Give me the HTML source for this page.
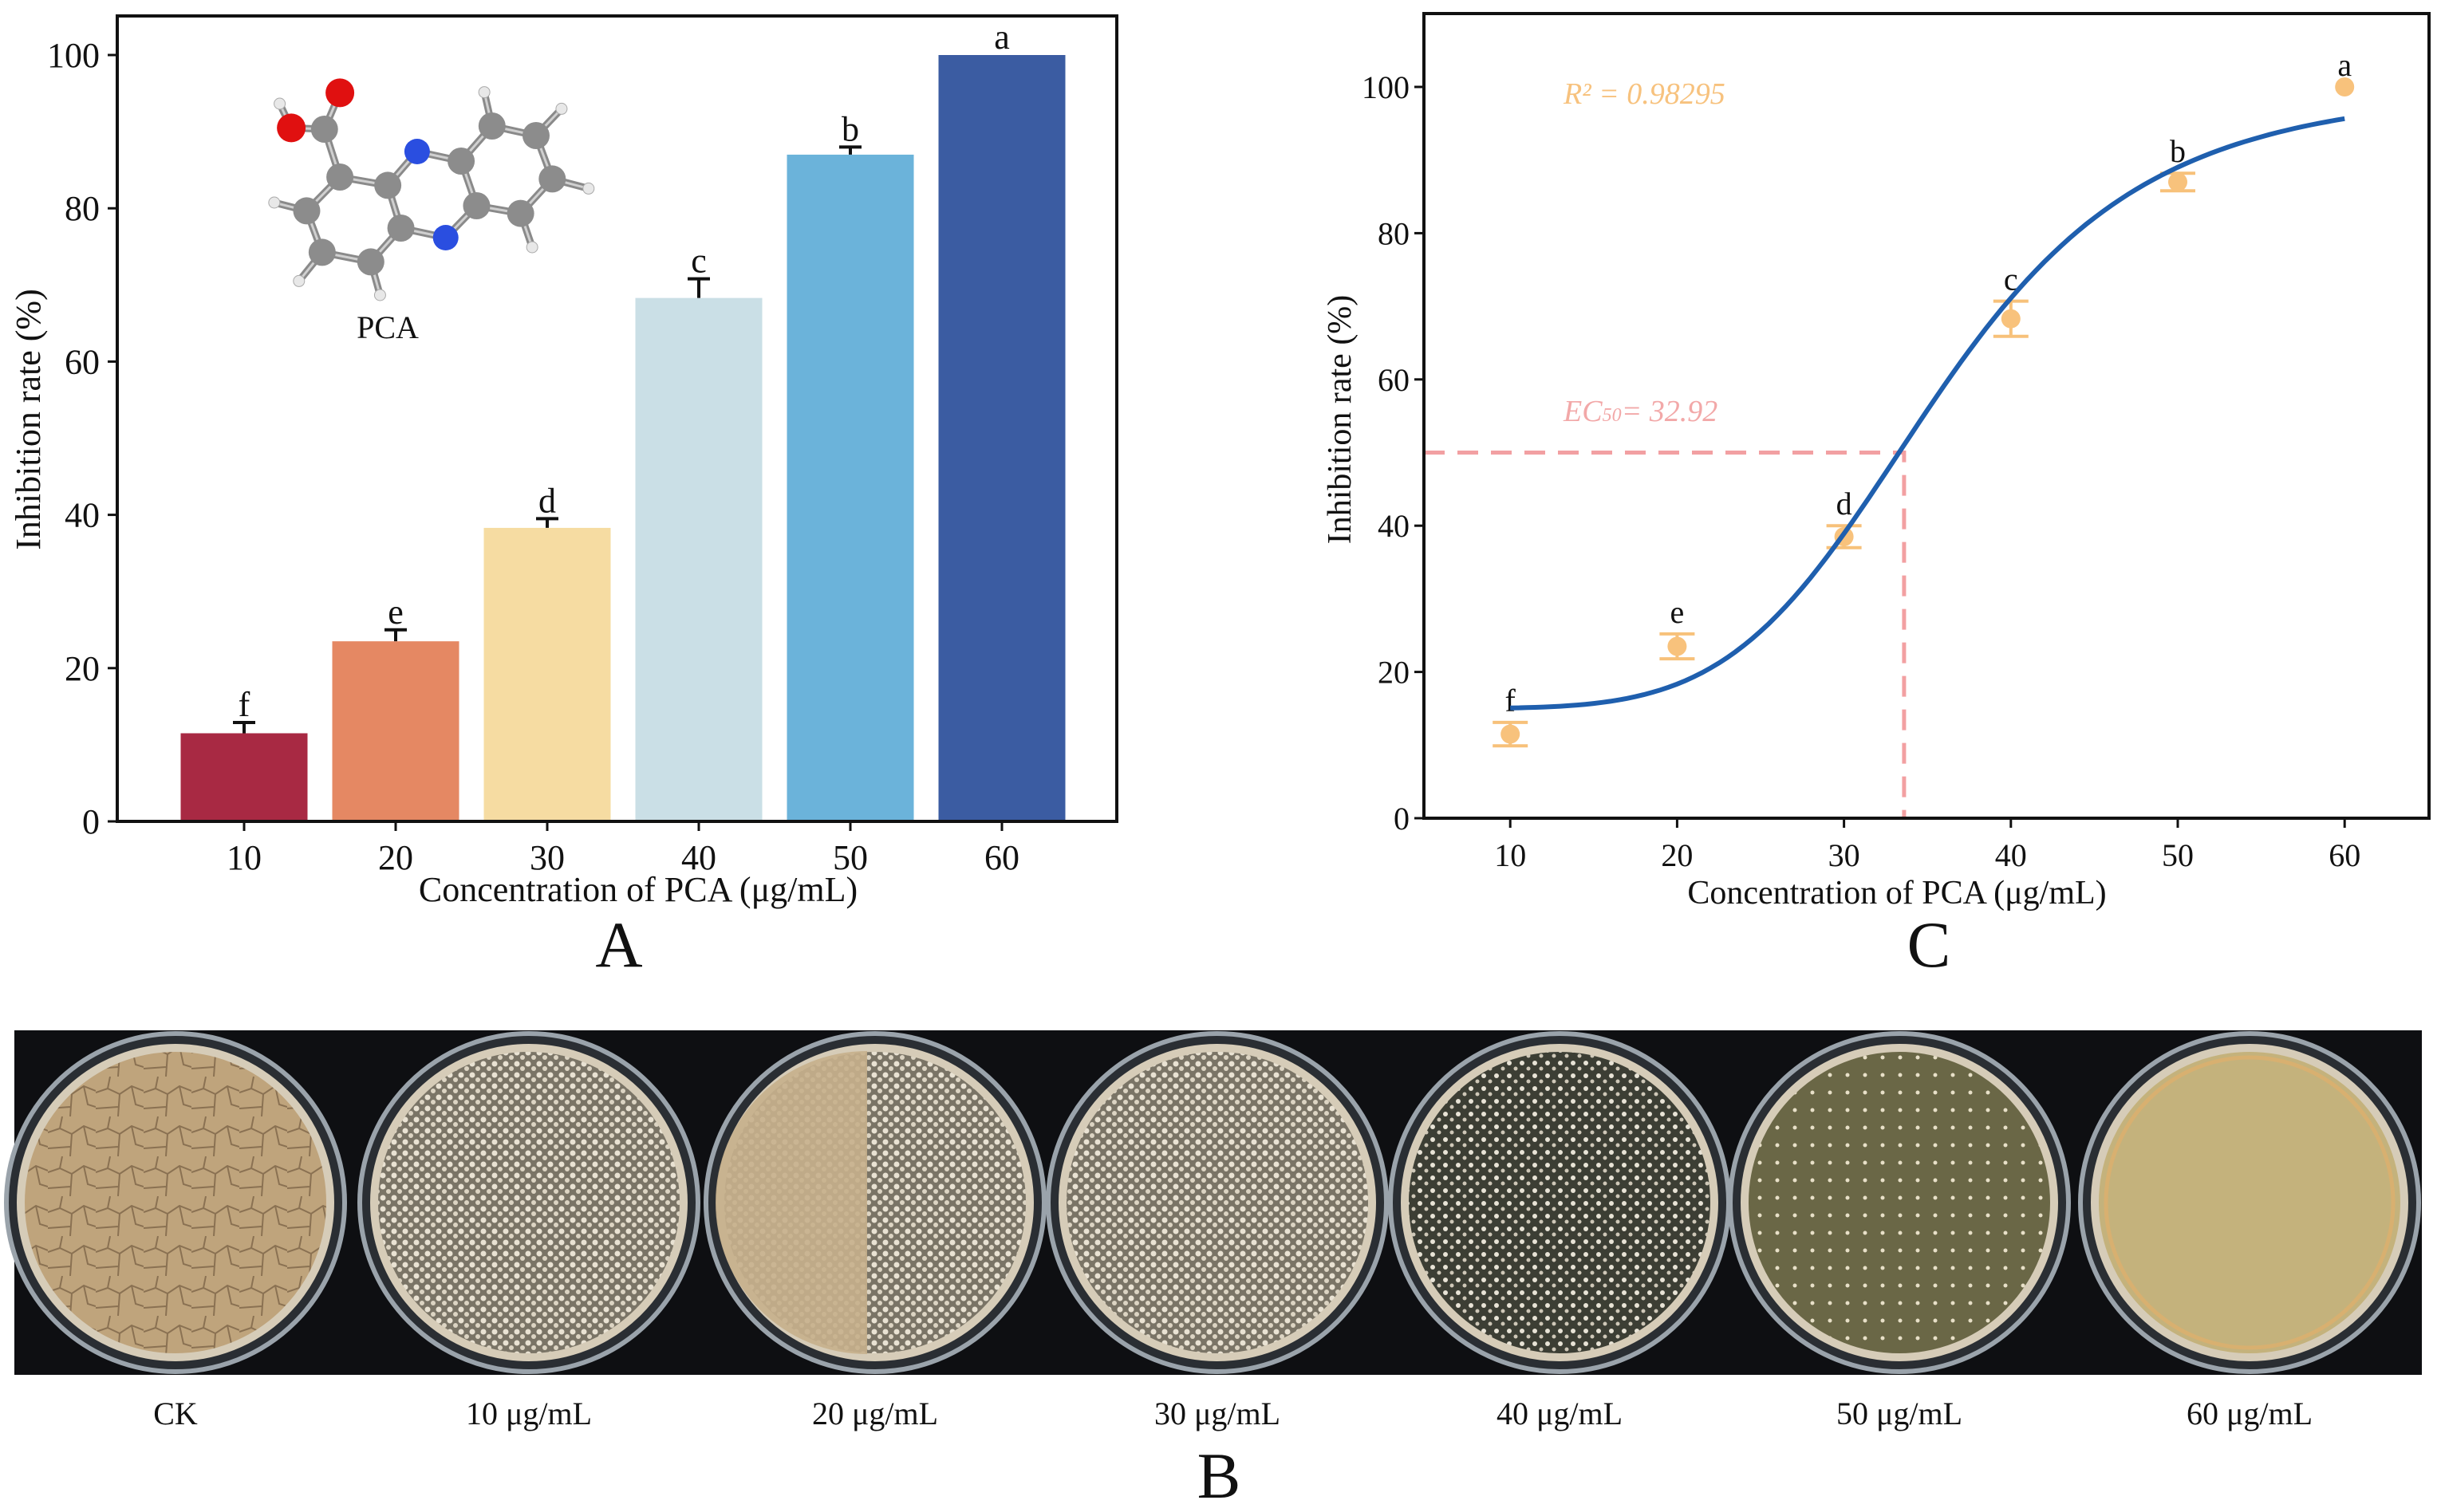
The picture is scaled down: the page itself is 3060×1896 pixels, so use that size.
<!DOCTYPE html>
<html><head><meta charset="utf-8">
<style>
html,body{margin:0;padding:0;background:#fff;}
body{width:3060px;height:1896px;overflow:hidden;position:relative;font-family:"Liberation Serif",serif;}
svg{position:absolute;left:0;top:0;}
</style></head>
<body>
<svg id="fig" width="3060" height="1896" viewBox="0 0 3060 1896" xmlns="http://www.w3.org/2000/svg" font-family="Liberation Serif, serif">
<defs>
<pattern id="cracks" width="60" height="50" patternUnits="userSpaceOnUse">
<rect width="60" height="50" fill="#bfa47c"/>
<path d="M0 20 L15 15 L30 22 L45 12 L60 18 M15 15 L18 0 M30 22 L28 50 M45 12 L50 35 L60 38 M0 40 L28 38" stroke="#8a7152" stroke-width="2" fill="none"/>
</pattern>
<pattern id="speck" width="14" height="14" patternUnits="userSpaceOnUse">
<rect width="14" height="14" fill="#7a7466"/>
<circle cx="4" cy="4" r="3.5" fill="#e9e2d3"/><circle cx="11" cy="10" r="3" fill="#dcd4c3"/>
</pattern>
<pattern id="speck2" width="16" height="16" patternUnits="userSpaceOnUse">
<rect width="16" height="16" fill="#3c3e34"/>
<circle cx="4" cy="5" r="3" fill="#e8e3d6"/><circle cx="12" cy="12" r="2.5" fill="#cfc8b8"/>
</pattern>
<pattern id="speck3" width="22" height="22" patternUnits="userSpaceOnUse">
<rect width="22" height="22" fill="#6a6746"/>
<circle cx="6" cy="6" r="2.5" fill="#e8e0c8"/>
</pattern>
</defs>
<g id="chartA"></g>
<g id="chartC"></g>
<g id="panelB"></g>
</svg>
<script>
const NS='http://www.w3.org/2000/svg';
function mk(parent,tag,attrs,text){const e=document.createElementNS(NS,tag);for(const k in attrs)e.setAttribute(k,attrs[k]);if(text!==undefined)e.textContent=text;parent.appendChild(e);return e;}

// ---------- Data ----------
const concentrations=[10,20,30,40,50,60];
const barValues=[11.5,23.5,38.3,68.3,87.0,100.0];
const barErrors=[1.4,1.5,1.2,2.5,1.0,0];
const barLetters=['f','e','d','c','b','a'];
const barColors=['#a82943','#e58863','#f6dca2','#cadfe6','#6bb3da','#3b5ca2'];
const yTicksA=[0,20,40,60,80,100];
const pointValues=[11.5,23.5,38.5,68.3,87.0,100.0];
const pointErrors=[1.6,1.7,1.5,2.4,1.2,0];
const xTicksC=[10,20,30,40,50,60];
const yTicksC=[0,20,40,60,80,100];
const fitBottom=15,fitTop=100,fitC=35.5,fitHill=5.57;
const ec50Line=33.6;
const plateLabels=['CK','10 μg/mL','20 μg/mL','30 μg/mL','40 μg/mL','50 μg/mL','60 μg/mL'];

// ---------- Chart A ----------
const A=document.getElementById('chartA');
const aL=147,aR=1400,aT=20,aB=1030;
const ayS=v=>1030-v*(1030-69)/100;
const axS=i=>306+i*190;
const bw=159;
concentrations.forEach((c,i)=>{
  const x=axS(i),y=ayS(barValues[i]);
  const r=mk(A,'rect',{x:x-bw/2,y:y,width:bw,height:ayS(0)-y,fill:barColors[i]});
  
  
  if(barErrors[i]>0){
    const ye=ayS(barValues[i]+barErrors[i]);
    const eb=mk(A,'path',{d:`M${x} ${y} V${ye} M${x-14} ${ye} H${x+14}`,stroke:'#111',"stroke-width":4,fill:'none'});
    
    
  }
  const lt=mk(A,'text',{x:x,y:ayS(barValues[i]+barErrors[i])-8,"text-anchor":'middle',"font-size":44,fill:'#111'},barLetters[i]);
  
  
  mk(A,'line',{x1:x,x2:x,y1:aB,y2:aB+12,stroke:'#111',"stroke-width":3});
  const tl=mk(A,'text',{x:x,y:aB+60,"text-anchor":'middle',"font-size":44,fill:'#111'},String(c));
  
  
});
yTicksA.forEach(t=>{
  const y=ayS(t);
  mk(A,'line',{x1:aL-12,x2:aL,y1:y,y2:y,stroke:'#111',"stroke-width":3});
  const tl=mk(A,'text',{x:aL-22,y:y+15,"text-anchor":'end',"font-size":44,fill:'#111'},String(t));
  
  
});
mk(A,'rect',{x:aL,y:aT,width:aR-aL,height:aB-aT,fill:'none',stroke:'#111',"stroke-width":4,});
mk(A,'text',{x:800,y:1130,"text-anchor":'middle',"font-size":44,fill:'#111',},'Concentration of PCA (μg/mL)');
mk(A,'text',{x:0,y:0,transform:'translate(50,526) rotate(-90)',"text-anchor":'middle',"font-size":44,fill:'#111',},'Inhibition rate (%)');
mk(A,'text',{x:776,y:1212,"text-anchor":'middle',"font-size":82,fill:'#111',},'A');
mk(A,'text',{x:486,y:424,"text-anchor":'middle',"font-size":40,fill:'#111',},'PCA');
// molecule
const mol=mk(A,'g',{});
const atoms=[['O',403,133],['O',340,188],['H',325,150],['C',383,190],['C',403,265],['C',465,278],['N',503,225],['C',560,240],['C',600,185],['C',657,200],['C',678,268],['C',637,322],['C',580,310],['N',540,360],['C',482,345],['C',443,398],['C',380,383],['C',360,318],['H',318,305],['H',350,428],['H',455,450],['H',590,132],['H',690,158],['H',725,283],['H',652,375]];
const bonds=[[0,3],[1,3],[1,2],[3,4],[4,5],[5,6],[6,7],[7,8],[8,9],[9,10],[10,11],[11,12],[12,7],[12,13],[13,14],[14,5],[14,15],[15,16],[16,17],[17,4],[17,18],[16,19],[15,20],[8,21],[9,22],[10,23],[11,24]];
const P=a=>[a[1]*0.968+36,a[2]*0.8+10];
bonds.forEach(b=>{const p=P(atoms[b[0]]),q=P(atoms[b[1]]);mk(mol,'line',{x1:p[0],y1:p[1],x2:q[0],y2:q[1],stroke:'#8a8a8a',"stroke-width":9});mk(mol,'line',{x1:p[0],y1:p[1],x2:q[0],y2:q[1],stroke:'#d0d0d0',"stroke-width":3});});
const ac={C:'#8c8c8c',O:'#e01010',N:'#2a4ee0',H:'#e8e8e8'},ar={C:17,O:18,N:16,H:7};
atoms.forEach(a=>{const p=P(a);mk(mol,'circle',{cx:p[0],cy:p[1],r:ar[a[0]],fill:ac[a[0]],stroke:a[0]==='H'?'#aaa':'none'});});

// ---------- Chart C ----------
const C=document.getElementById('chartC');
const cL=1785,cR=3045,cT=17,cB=1026;
const cx=v=>1684+v*20.92;
const cy=v=>1026-v*(1026-109)/100;
mk(C,'path',{d:`M${cL} ${cy(50)} H${cx(ec50Line)} V${cB}`,stroke:'#f2a0a2',"stroke-width":5,fill:'none',"stroke-dasharray":'26 16',});
xTicksC.forEach((c,i)=>{
  const x=cx(concentrations[i]),y=cy(pointValues[i]);
  if(pointErrors[i]>0){
    const y1=cy(pointValues[i]+pointErrors[i]),y2=cy(pointValues[i]-pointErrors[i]);
    const eb=mk(C,'path',{d:`M${x} ${y1} V${y2} M${x-22} ${y1} H${x+22} M${x-22} ${y2} H${x+22}`,stroke:'#f7c17a',"stroke-width":4,fill:'none'});
    
    
  }
  const pt=mk(C,'circle',{cx:x,cy:y,r:12,fill:'#f8c27c'});
  
  
  const lt=mk(C,'text',{x:x,y:cy(pointValues[i]+pointErrors[i])-14,"text-anchor":'middle',"font-size":40,fill:'#111'},barLetters[i]);
  
  
});
let d='';
for(let x=10;x<=60.001;x+=0.5){const y=fitBottom+(fitTop-fitBottom)/(1+Math.pow(fitC/x,fitHill));d+=(d?'L':'M')+cx(x).toFixed(1)+' '+cy(y).toFixed(1);}
mk(C,'path',{d:d,stroke:'#1f5fae',"stroke-width":6,fill:'none',});
xTicksC.forEach(t=>{
  const x=cx(t);
  mk(C,'line',{x1:x,x2:x,y1:cB,y2:cB+12,stroke:'#111',"stroke-width":3});
  const tl=mk(C,'text',{x:x,y:cB+60,"text-anchor":'middle',"font-size":40,fill:'#111'},String(t));
  
  
});
yTicksC.forEach(t=>{
  const y=cy(t);
  mk(C,'line',{x1:cL-12,x2:cL,y1:y,y2:y,stroke:'#111',"stroke-width":3});
  const tl=mk(C,'text',{x:cL-18,y:y+14,"text-anchor":'end',"font-size":40,fill:'#111'},String(t));
  
  
});
mk(C,'rect',{x:cL,y:cT,width:cR-cL,height:cB-cT,fill:'none',stroke:'#111',"stroke-width":4,});
mk(C,'text',{x:2378,y:1133,"text-anchor":'middle',"font-size":42,fill:'#111',},'Concentration of PCA (μg/mL)');
mk(C,'text',{x:0,y:0,transform:'translate(1693,526) rotate(-90)',"text-anchor":'middle',"font-size":42,fill:'#111',},'Inhibition rate (%)');
mk(C,'text',{x:1960,y:130,"font-size":38,"font-style":'italic',fill:'#f7c27e',},'R² = 0.98295');
const ec=mk(C,'text',{x:1960,y:528,"font-size":38,"font-style":'italic',fill:'#f2a8a8',},'EC');
mk(ec,'tspan',{"font-size":24},'50');
mk(ec,'tspan',{},'= 32.92');
mk(C,'text',{x:2418,y:1212,"text-anchor":'middle',"font-size":82,fill:'#111',},'C');

// ---------- Panel B ----------
const B=document.getElementById('panelB');
mk(B,'rect',{x:18,y:1292,width:3018,height:432,fill:'#0e0f12',});
const fills=['url(#cracks)','url(#speck)','url(#speck)','url(#speck)','url(#speck2)','url(#speck3)','#c4b27c'];
const labelX=[220,663,1097,1526,1955,2381,2820];
plateLabels.forEach((lab,i)=>{
  const x=labelX[i],y=1508;
  const g=mk(B,'g',{});
  
  
  mk(g,'ellipse',{cx:x,cy:y,rx:212,ry:212,fill:'#2a2e33',stroke:'#9aa3ab',"stroke-width":6});
  mk(g,'ellipse',{cx:x,cy:y,rx:194,ry:194,fill:fills[i],stroke:'#d6ccb8',"stroke-width":10});
  if(i===2) mk(g,'path',{d:`M${x-10} ${y-190} A190 190 0 0 0 ${x-10} ${y+190} Z`,fill:'#c6b08c',opacity:0.9});
  if(i===6) mk(g,'ellipse',{cx:x,cy:y,rx:180,ry:182,fill:'none',stroke:'#d8b070',"stroke-width":5});
  const t=mk(B,'text',{x:x,y:1786,"text-anchor":'middle',"font-size":40,fill:'#111'},lab);
  
  
});
mk(B,'text',{x:1528,y:1878,"text-anchor":'middle',"font-size":82,fill:'#111',},'B');
</script>
</body></html>
